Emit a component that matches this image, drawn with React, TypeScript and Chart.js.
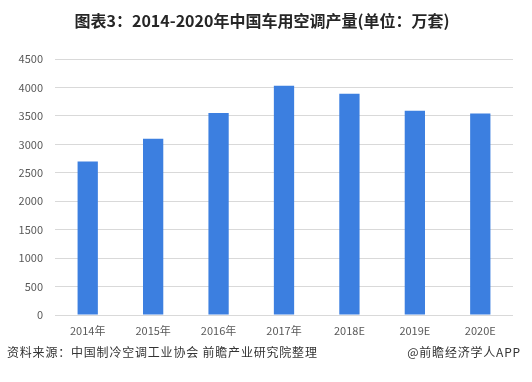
import React, { useEffect, useRef } from "react";
import { Chart, registerables } from "chart.js";

Chart.register(...registerables);

const categories = ["2014年", "2015年", "2016年", "2017年", "2018E", "2019E", "2020E"];
const production = [2700, 3100, 3550, 4030, 3890, 3590, 3540];
const yTicks = [0, 500, 1000, 1500, 2000, 2500, 3000, 3500, 4000, 4500];

const titleText = "图表3：2014-2020年中国车用空调产量(单位：万套)";
const sourceText = "资料来源：中国制冷空调工业协会 前瞻产业研究院整理";
const brandText = "@前瞻经济学人APP";

const FONT = '"Noto Sans CJK SC", "Noto Sans", sans-serif';

const textPlugin = {
  id: "texts",
  afterDraw(chart: any) {
    const ctx = chart.ctx as CanvasRenderingContext2D;
    ctx.save();
    ctx.fillStyle = "#262626";
    ctx.font = `bold 16px ${FONT}`;
    ctx.textAlign = "center";
    ctx.textBaseline = "middle";
    ctx.fillText(titleText, 262, 21);

    ctx.fillStyle = "#333333";
    ctx.font = `12px ${FONT}`;
    (ctx as any).letterSpacing = "0.8px";
    ctx.textAlign = "left";
    ctx.fillText(sourceText, 7, 352);
    ctx.textAlign = "right";
    ctx.fillText(brandText, 521, 352);
    ctx.restore();
  },
};

export default function App() {
  const ref = useRef<HTMLCanvasElement>(null);
  useEffect(() => {
    if (!ref.current) return;
    const chart = new Chart(ref.current, {
      type: "bar",
      data: {
        labels: categories,
        datasets: [
          {
            data: production,
            backgroundColor: "#3c7fe0",
            categoryPercentage: 1,
            barPercentage: 0.31,
          },
        ],
      },
      options: {
        animation: false,
        responsive: false,
        devicePixelRatio: 1,
        layout: { padding: { top: 59, right: 19, left: 0, bottom: 0 } },
        plugins: {
          legend: { display: false },
          tooltip: { enabled: false },
          title: { display: false },
        },
        scales: {
          x: {
            grid: { display: false, drawTicks: false },
            border: { display: false },
            ticks: {
              color: "#595959",
              font: { size: 11, family: FONT },
              padding: 9,
              maxRotation: 0,
            },
            afterFit(scale: any) {
              scale.height = 67;
            },
          },
          y: {
            min: 0,
            max: 4500,
            afterBuildTicks(scale: any) {
              scale.ticks = yTicks.map((v) => ({ value: v }));
            },
            grid: { color: "#d9d9d9", drawTicks: false, lineWidth: 1 },
            border: { display: false },
            ticks: {
              color: "#595959",
              font: { size: 11, family: FONT },
              padding: 12,
              callback: (v: any) => String(v),
            },
            afterFit(scale: any) {
              scale.width = 55;
            },
          },
        },
      },
      plugins: [textPlugin],
    });
    return () => chart.destroy();
  }, []);
  return (
    <div style={{ position: "fixed", left: 0, top: 0, width: 532, height: 382, background: "#fff" }}>
      <canvas ref={ref} width={532} height={382} style={{ width: 532, height: 382 }} />
    </div>
  );
}
